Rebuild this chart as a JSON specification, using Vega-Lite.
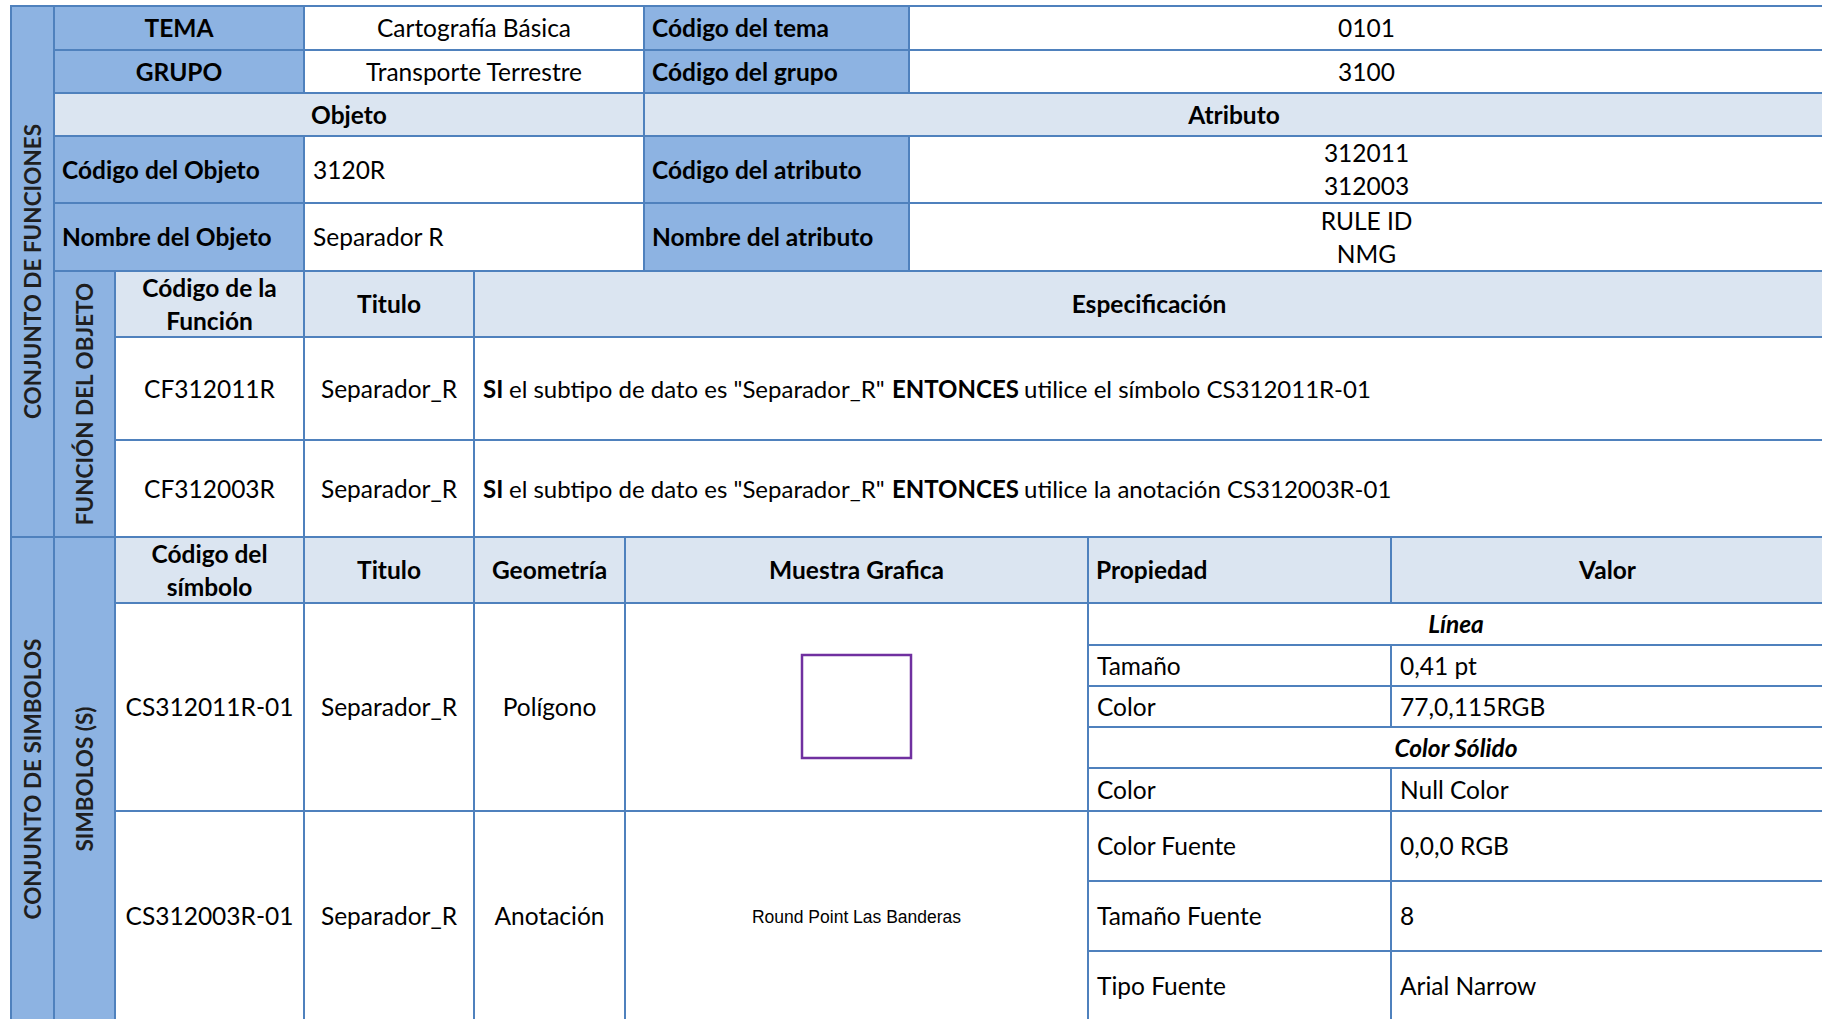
{
  "$schema": "https://vega.github.io/schema/vega-lite/v6.json",
  "width": 1822,
  "height": 1019,
  "autosize": {"type": "none"},
  "padding": 0,
  "background": "#ffffff",
  "config": {"view": {"stroke": null}},
  "datasets": {
    "cells": [
      {"c0": 0, "c1": 1, "r0": 0, "r1": 8, "kind": "header", "role": "set", "label": "CONJUNTO DE FUNCIONES"},
      {"c0": 1, "c1": 3, "r0": 0, "r1": 1, "kind": "header", "role": "title", "label": "TEMA"},
      {"c0": 3, "c1": 6, "r0": 0, "r1": 1, "kind": "body", "role": "value", "label": "Cartografía Básica"},
      {"c0": 6, "c1": 7, "r0": 0, "r1": 1, "kind": "header", "role": "field", "label": "Código del tema"},
      {"c0": 7, "c1": 10, "r0": 0, "r1": 1, "kind": "body", "role": "value", "label": "0101"},
      {"c0": 1, "c1": 3, "r0": 1, "r1": 2, "kind": "header", "role": "title", "label": "GRUPO"},
      {"c0": 3, "c1": 6, "r0": 1, "r1": 2, "kind": "body", "role": "value", "label": "Transporte Terrestre"},
      {"c0": 6, "c1": 7, "r0": 1, "r1": 2, "kind": "header", "role": "field", "label": "Código del grupo"},
      {"c0": 7, "c1": 10, "r0": 1, "r1": 2, "kind": "body", "role": "value", "label": "3100"},
      {"c0": 1, "c1": 6, "r0": 2, "r1": 3, "kind": "sub", "role": "title", "label": "Objeto"},
      {"c0": 6, "c1": 10, "r0": 2, "r1": 3, "kind": "sub", "role": "title", "label": "Atributo"},
      {"c0": 1, "c1": 3, "r0": 3, "r1": 4, "kind": "header", "role": "field", "label": "Código del Objeto"},
      {"c0": 3, "c1": 6, "r0": 3, "r1": 4, "kind": "body", "role": "entry", "label": "3120R"},
      {"c0": 6, "c1": 7, "r0": 3, "r1": 4, "kind": "header", "role": "field", "label": "Código  del atributo"},
      {"c0": 7, "c1": 10, "r0": 3, "r1": 4, "kind": "body", "role": "value", "label": ["312011", "312003"]},
      {"c0": 1, "c1": 3, "r0": 4, "r1": 5, "kind": "header", "role": "field", "label": "Nombre del Objeto"},
      {"c0": 3, "c1": 6, "r0": 4, "r1": 5, "kind": "body", "role": "entry", "label": "Separador R"},
      {"c0": 6, "c1": 7, "r0": 4, "r1": 5, "kind": "header", "role": "field", "label": "Nombre del atributo"},
      {"c0": 7, "c1": 10, "r0": 4, "r1": 5, "kind": "body", "role": "value", "label": ["RULE ID", "NMG"]},
      {"c0": 1, "c1": 2, "r0": 5, "r1": 8, "kind": "header", "role": "set", "label": "FUNCIÓN DEL OBJETO"},
      {"c0": 2, "c1": 3, "r0": 5, "r1": 6, "kind": "sub", "role": "title", "label": ["Código de la", "Función"]},
      {"c0": 3, "c1": 4, "r0": 5, "r1": 6, "kind": "sub", "role": "title", "label": "Titulo"},
      {"c0": 4, "c1": 10, "r0": 5, "r1": 6, "kind": "sub", "role": "title", "label": "Especificación"},
      {"c0": 2, "c1": 3, "r0": 6, "r1": 7, "kind": "body", "role": "value", "label": "CF312011R"},
      {"c0": 3, "c1": 4, "r0": 6, "r1": 7, "kind": "body", "role": "value", "label": "Separador_R"},
      {"c0": 4, "c1": 10, "r0": 6, "r1": 7, "kind": "body", "role": "rule", "label": ""},
      {"c0": 2, "c1": 3, "r0": 7, "r1": 8, "kind": "body", "role": "value", "label": "CF312003R"},
      {"c0": 3, "c1": 4, "r0": 7, "r1": 8, "kind": "body", "role": "value", "label": "Separador_R"},
      {"c0": 4, "c1": 10, "r0": 7, "r1": 8, "kind": "body", "role": "rule", "label": ""},
      {"c0": 0, "c1": 1, "r0": 8, "r1": 17, "kind": "header", "role": "set", "label": "CONJUNTO DE SIMBOLOS"},
      {"c0": 1, "c1": 2, "r0": 8, "r1": 17, "kind": "header", "role": "set", "label": "SIMBOLOS (S)"},
      {"c0": 2, "c1": 3, "r0": 8, "r1": 9, "kind": "sub", "role": "title", "label": ["Código del", "símbolo"]},
      {"c0": 3, "c1": 4, "r0": 8, "r1": 9, "kind": "sub", "role": "title", "label": "Titulo"},
      {"c0": 4, "c1": 5, "r0": 8, "r1": 9, "kind": "sub", "role": "title", "label": "Geometría"},
      {"c0": 5, "c1": 8, "r0": 8, "r1": 9, "kind": "sub", "role": "title", "label": "Muestra Grafica"},
      {"c0": 8, "c1": 9, "r0": 8, "r1": 9, "kind": "sub", "role": "field", "label": "Propiedad"},
      {"c0": 9, "c1": 10, "r0": 8, "r1": 9, "kind": "sub", "role": "title", "label": "Valor"},
      {"c0": 2, "c1": 3, "r0": 9, "r1": 14, "kind": "body", "role": "value", "label": "CS312011R-01"},
      {"c0": 3, "c1": 4, "r0": 9, "r1": 14, "kind": "body", "role": "value", "label": "Separador_R"},
      {"c0": 4, "c1": 5, "r0": 9, "r1": 14, "kind": "body", "role": "value", "label": "Polígono"},
      {"c0": 5, "c1": 8, "r0": 9, "r1": 14, "kind": "body", "role": "polygon", "label": ""},
      {"c0": 8, "c1": 10, "r0": 9, "r1": 10, "kind": "body", "role": "group", "label": "Línea"},
      {"c0": 8, "c1": 9, "r0": 10, "r1": 11, "kind": "body", "role": "entry", "label": "Tamaño"},
      {"c0": 9, "c1": 10, "r0": 10, "r1": 11, "kind": "body", "role": "entry", "label": "0,41 pt"},
      {"c0": 8, "c1": 9, "r0": 11, "r1": 12, "kind": "body", "role": "entry", "label": "Color"},
      {"c0": 9, "c1": 10, "r0": 11, "r1": 12, "kind": "body", "role": "entry", "label": "77,0,115RGB"},
      {"c0": 8, "c1": 10, "r0": 12, "r1": 13, "kind": "body", "role": "group", "label": "Color Sólido"},
      {"c0": 8, "c1": 9, "r0": 13, "r1": 14, "kind": "body", "role": "entry", "label": "Color"},
      {"c0": 9, "c1": 10, "r0": 13, "r1": 14, "kind": "body", "role": "entry", "label": "Null Color"},
      {"c0": 2, "c1": 3, "r0": 14, "r1": 17, "kind": "body", "role": "value", "label": "CS312003R-01"},
      {"c0": 3, "c1": 4, "r0": 14, "r1": 17, "kind": "body", "role": "value", "label": "Separador_R"},
      {"c0": 4, "c1": 5, "r0": 14, "r1": 17, "kind": "body", "role": "value", "label": "Anotación"},
      {"c0": 5, "c1": 8, "r0": 14, "r1": 17, "kind": "body", "role": "sample", "label": "Round Point Las Banderas"},
      {"c0": 8, "c1": 9, "r0": 14, "r1": 15, "kind": "body", "role": "entry", "label": "Color Fuente"},
      {"c0": 9, "c1": 10, "r0": 14, "r1": 15, "kind": "body", "role": "entry", "label": "0,0,0 RGB"},
      {"c0": 8, "c1": 9, "r0": 15, "r1": 16, "kind": "body", "role": "entry", "label": "Tamaño Fuente"},
      {"c0": 9, "c1": 10, "r0": 15, "r1": 16, "kind": "body", "role": "entry", "label": "8"},
      {"c0": 8, "c1": 9, "r0": 16, "r1": 17, "kind": "body", "role": "entry", "label": "Tipo Fuente"},
      {"c0": 9, "c1": 10, "r0": 16, "r1": 17, "kind": "body", "role": "entry", "label": "Arial Narrow"}
    ],
    "rules": [
      {"c0": 4, "c1": 10, "r0": 6, "r1": 7, "cond": "SI", "subject": "el subtipo de dato es \"Separador_R\"", "then": "ENTONCES", "action": "utilice el símbolo CS312011R-01"},
      {"c0": 4, "c1": 10, "r0": 7, "r1": 8, "cond": "SI", "subject": "el subtipo de dato es \"Separador_R\"", "then": "ENTONCES", "action": "utilice la anotación CS312003R-01"}
    ]
  },
  "encoding": {
    "x": {"field": "c0", "type": "quantitative", "axis": null,
          "scale": {"domain": [0, 1, 2, 3, 4, 5, 6, 7, 8, 9, 10], "range": [11, 54, 115, 304, 474, 625, 644, 909, 1088, 1391, 1824], "zero": false, "nice": false}},
    "y": {"field": "r0", "type": "quantitative", "axis": null,
          "scale": {"domain": [0, 1, 2, 3, 4, 5, 6, 7, 8, 9, 10, 11, 12, 13, 14, 15, 16, 17], "range": [6, 50, 93, 136, 203, 271, 337, 440, 537, 603, 645, 686, 727, 768, 811, 881, 951, 1021], "zero": false, "nice": false}}
  },
  "layer": [
    {
      "data": {"name": "cells"},
      "mark": {"type": "rect", "stroke": "#4F81BD", "strokeWidth": 2},
      "encoding": {
        "x2": {"field": "c1"},
        "y2": {"field": "r1"},
        "color": {"field": "kind", "type": "nominal", "legend": null,
                  "scale": {"domain": ["header", "sub", "body"], "range": ["#8DB3E2", "#DBE5F1", "#FFFFFF"]}}
      }
    },
    {
      "data": {"name": "cells"},
      "transform": [{"filter": "datum.role == 'polygon'"}],
      "mark": {"type": "rect", "fill": "#FFFFFF", "stroke": "#7030A0", "strokeWidth": 2.5, "xOffset": 177, "x2Offset": -177, "yOffset": 52, "y2Offset": -53},
      "encoding": {"x2": {"field": "c1"}, "y2": {"field": "r1"}}
    },
    {
      "data": {"name": "cells"},
      "transform": [{"filter": "datum.role == 'title'"}],
      "mark": {"type": "text", "font": "Lato", "fontSize": 24.5, "fontWeight": "bold", "color": "#000000", "align": "center", "baseline": "middle", "lineHeight": 33,
               "dx": {"expr": "(scale('x', datum.c1) - scale('x', datum.c0)) / 2"},
               "dy": {"expr": "(scale('y', datum.r1) - scale('y', datum.r0)) / 2 + 2 - (isArray(datum.label) ? (length(datum.label) - 1) * 16.5 : 0)"}},
      "encoding": {"text": {"field": "label", "type": "nominal"}}
    },
    {
      "data": {"name": "cells"},
      "transform": [{"filter": "datum.role == 'field'"}],
      "mark": {"type": "text", "font": "Lato", "fontSize": 24.5, "fontWeight": "bold", "color": "#000000", "align": "left", "baseline": "middle", "dx": 8,
               "dy": {"expr": "(scale('y', datum.r1) - scale('y', datum.r0)) / 2 + 2"}},
      "encoding": {"text": {"field": "label", "type": "nominal"}}
    },
    {
      "data": {"name": "cells"},
      "transform": [{"filter": "datum.role == 'value'"}],
      "mark": {"type": "text", "font": "Lato", "fontSize": 24.5, "color": "#000000", "align": "center", "baseline": "middle", "lineHeight": 33,
               "dx": {"expr": "(scale('x', datum.c1) - scale('x', datum.c0)) / 2"},
               "dy": {"expr": "(scale('y', datum.r1) - scale('y', datum.r0)) / 2 + 2 - (isArray(datum.label) ? (length(datum.label) - 1) * 16.5 : 0)"}},
      "encoding": {"text": {"field": "label", "type": "nominal"}}
    },
    {
      "data": {"name": "cells"},
      "transform": [{"filter": "datum.role == 'entry'"}],
      "mark": {"type": "text", "font": "Lato", "fontSize": 24.5, "color": "#000000", "align": "left", "baseline": "middle", "dx": 9,
               "dy": {"expr": "(scale('y', datum.r1) - scale('y', datum.r0)) / 2 + 2"}},
      "encoding": {"text": {"field": "label", "type": "nominal"}}
    },
    {
      "data": {"name": "cells"},
      "transform": [{"filter": "datum.role == 'group'"}],
      "mark": {"type": "text", "font": "Lato", "fontSize": 24.5, "fontWeight": "bold", "fontStyle": "italic", "color": "#000000", "align": "center", "baseline": "middle",
               "dx": {"expr": "(scale('x', datum.c1) - scale('x', datum.c0)) / 2"},
               "dy": {"expr": "(scale('y', datum.r1) - scale('y', datum.r0)) / 2 + 2"}},
      "encoding": {"text": {"field": "label", "type": "nominal"}}
    },
    {
      "data": {"name": "cells"},
      "transform": [{"filter": "datum.role == 'sample'"}],
      "mark": {"type": "text", "font": "Liberation Sans", "fontSize": 17.5, "color": "#000000", "align": "center", "baseline": "middle",
               "dx": {"expr": "(scale('x', datum.c1) - scale('x', datum.c0)) / 2"},
               "dy": {"expr": "(scale('y', datum.r1) - scale('y', datum.r0)) / 2 + 2"}},
      "encoding": {"text": {"field": "label", "type": "nominal"}}
    },
    {
      "data": {"name": "cells"},
      "transform": [{"filter": "datum.role == 'set'"}],
      "mark": {"type": "text", "font": "Lato", "fontSize": 22.5, "fontWeight": "bold", "color": "#1F1F1F", "align": "center", "baseline": "middle", "angle": 270,
               "dx": {"expr": "-(scale('y', datum.r1) - scale('y', datum.r0)) / 2"},
               "dy": {"expr": "(scale('x', datum.c1) - scale('x', datum.c0)) / 2 + 1"}},
      "encoding": {"text": {"field": "label", "type": "nominal"}}
    },
    {
      "data": {"name": "rules"},
      "mark": {"type": "text", "font": "Lato", "fontSize": 24, "fontWeight": "bold", "color": "#000000", "align": "left", "baseline": "middle", "dx": 9,
               "dy": {"expr": "(scale('y', datum.r1) - scale('y', datum.r0)) / 2 + 2"}},
      "encoding": {"text": {"field": "cond", "type": "nominal"}}
    },
    {
      "data": {"name": "rules"},
      "mark": {"type": "text", "font": "Lato", "fontSize": 24, "color": "#000000", "align": "left", "baseline": "middle", "dx": 35,
               "dy": {"expr": "(scale('y', datum.r1) - scale('y', datum.r0)) / 2 + 2"}},
      "encoding": {"text": {"field": "subject", "type": "nominal"}}
    },
    {
      "data": {"name": "rules"},
      "mark": {"type": "text", "font": "Lato", "fontSize": 24, "fontWeight": "bold", "color": "#000000", "align": "left", "baseline": "middle", "dx": 418,
               "dy": {"expr": "(scale('y', datum.r1) - scale('y', datum.r0)) / 2 + 2"}},
      "encoding": {"text": {"field": "then", "type": "nominal"}}
    },
    {
      "data": {"name": "rules"},
      "mark": {"type": "text", "font": "Lato", "fontSize": 24, "color": "#000000", "align": "left", "baseline": "middle", "dx": 550,
               "dy": {"expr": "(scale('y', datum.r1) - scale('y', datum.r0)) / 2 + 2"}},
      "encoding": {"text": {"field": "action", "type": "nominal"}}
    }
  ]
}
